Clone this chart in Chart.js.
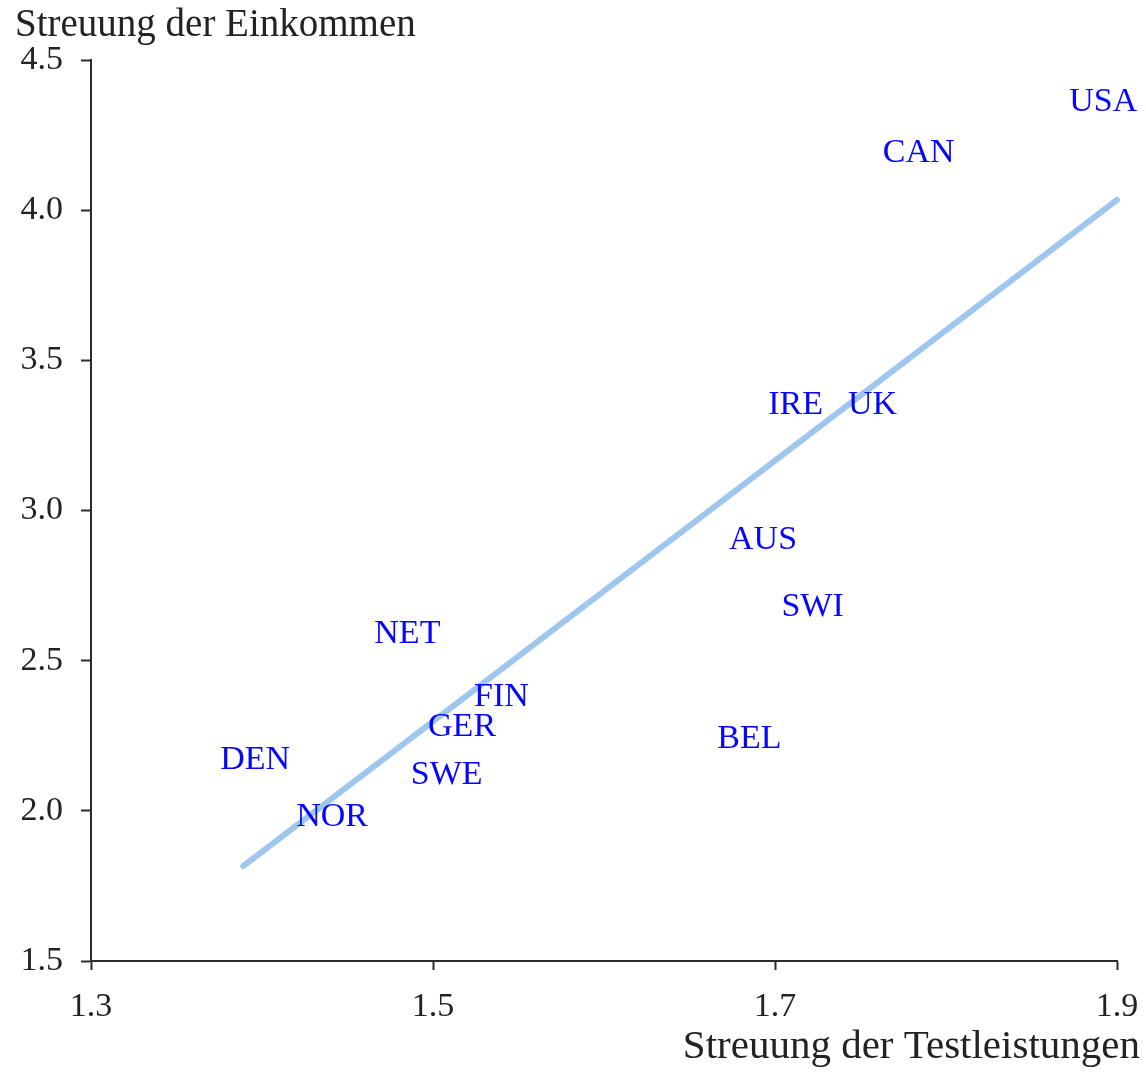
<!DOCTYPE html>
<html>
<head>
<meta charset="utf-8">
<title>Streuung der Einkommen und Testleistungen</title>
<script src="https://cdn.jsdelivr.net/npm/chart.js@4.4.1/dist/chart.umd.min.js"></script>
<style>
  html, body {
    margin: 0;
    padding: 0;
    background: #ffffff;
  }
  #chart-wrap {
    width: 1146px;
    height: 1073px;
  }
</style>
</head>
<body>
<div id="chart-wrap">
  <canvas id="income-chart" width="1146" height="1073"></canvas>
</div>
<script>
const COUNTRIES = ["USA", "CAN", "IRE", "UK", "AUS", "SWI", "NET", "FIN", "GER", "BEL", "DEN", "SWE", "NOR"];
const TEST_SPREAD = [1.892, 1.784, 1.712, 1.757, 1.693, 1.722, 1.485, 1.540, 1.517, 1.685, 1.396, 1.508, 1.441];
const INCOME_SPREAD = [4.36, 4.19, 3.35, 3.35, 2.90, 2.68, 2.59, 2.38, 2.28, 2.24, 2.17, 2.12, 1.98];

const TREND_X = [1.389, 1.9];
const TREND_Y = [1.816, 4.034];

const X_TICKS = [1.3, 1.5, 1.7, 1.9];
const Y_TICKS = [1.5, 2.0, 2.5, 3.0, 3.5, 4.0, 4.5];

const Y_TITLE = "Streuung der Einkommen";
const X_TITLE = "Streuung der Testleistungen";

const SERIF = "'Liberation Serif', 'Times New Roman', serif";
const AXIS_COLOR = "#2b2b2b";
const LABEL_COLOR = "#0606ff";

function toPoints(xs, ys) {
  return xs.map(function (x, i) {
    return { x: x, y: ys[i] };
  });
}

// country codes sit where the points would be
const countryLabelPlugin = {
  id: "countryLabels",
  afterDatasetsDraw: function (chart) {
    const meta = chart.getDatasetMeta(0);
    const ctx = chart.ctx;
    ctx.save();
    ctx.font = "34px " + SERIF;
    ctx.fillStyle = LABEL_COLOR;
    ctx.textAlign = "center";
    ctx.textBaseline = "middle";
    meta.data.forEach(function (point, i) {
      ctx.fillText(COUNTRIES[i], point.x, point.y);
    });
    ctx.restore();
  },
};

const axisTitlePlugin = {
  id: "axisTitles",
  afterDraw: function (chart) {
    const ctx = chart.ctx;
    ctx.save();
    ctx.fillStyle = "#222222";
    ctx.textBaseline = "alphabetic";
    ctx.font = "39px " + SERIF;
    ctx.textAlign = "left";
    ctx.fillText(Y_TITLE, 15, 36);
    ctx.font = "41px " + SERIF;
    ctx.textAlign = "right";
    ctx.fillText(X_TITLE, 1140, 1058);
    ctx.restore();
  },
};

function createChart() {
  const canvas = document.getElementById("income-chart");
  if (!canvas || typeof Chart === "undefined") {
    return;
  }

  new Chart(canvas.getContext("2d"), {
    type: "scatter",
    data: {
      datasets: [
        {
          label: "Länder",
          data: toPoints(TEST_SPREAD, INCOME_SPREAD),
          pointRadius: 0,
          pointHoverRadius: 0,
          showLine: false,
        },
        {
          type: "line",
          label: "Trend",
          data: toPoints(TREND_X, TREND_Y),
          borderColor: "#9fc6ec",
          borderWidth: 6,
          borderCapStyle: "round",
          pointRadius: 0,
          fill: false,
          clip: false,
        },
      ],
    },
    options: {
      responsive: false,
      animation: false,
      layout: {
        padding: { top: 60, right: 29, bottom: 0, left: 0 },
      },
      plugins: {
        legend: { display: false },
        tooltip: { enabled: false },
      },
      scales: {
        x: {
          type: "linear",
          min: 1.3,
          max: 1.9,
          afterBuildTicks: function (scale) {
            scale.ticks = X_TICKS.map(function (v) {
              return { value: v };
            });
          },
          afterFit: function (scale) {
            scale.height = 112;
            scale.paddingLeft = 0;
            scale.paddingRight = 0;
          },
          ticks: {
            font: { family: SERIF, size: 34 },
            color: "#222222",
            padding: 17,
            maxRotation: 0,
            callback: function (value) {
              return Number(value).toFixed(1);
            },
          },
          grid: {
            drawOnChartArea: false,
            drawTicks: true,
            tickLength: 9,
            tickWidth: 2,
            color: AXIS_COLOR,
          },
          border: { display: true, color: AXIS_COLOR, width: 2 },
        },
        y: {
          type: "linear",
          min: 1.5,
          max: 4.5,
          afterBuildTicks: function (scale) {
            scale.ticks = Y_TICKS.map(function (v) {
              return { value: v };
            });
          },
          afterFit: function (scale) {
            scale.width = 91;
            scale.paddingTop = 0;
            scale.paddingBottom = 0;
          },
          ticks: {
            font: { family: SERIF, size: 34 },
            color: "#222222",
            padding: 18,
            callback: function (value) {
              return Number(value).toFixed(1);
            },
          },
          grid: {
            drawOnChartArea: false,
            drawTicks: true,
            tickLength: 10,
            tickWidth: 2,
            color: AXIS_COLOR,
          },
          border: { display: true, color: AXIS_COLOR, width: 2 },
        },
      },
    },
    plugins: [countryLabelPlugin, axisTitlePlugin],
  });
}

window.addEventListener("DOMContentLoaded", createChart);
</script>
</body>
</html>
